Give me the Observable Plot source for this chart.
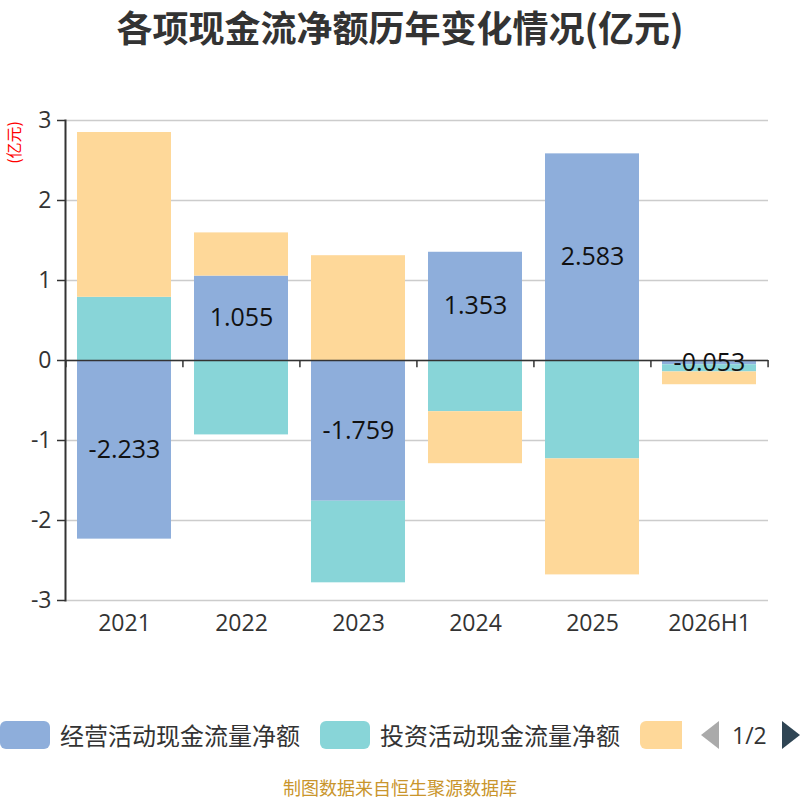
<!DOCTYPE html>
<html>
<head>
<meta charset="utf-8">
<script src="https://cdn.jsdelivr.net/npm/d3@7"></script>
<script src="https://cdn.jsdelivr.net/npm/@observablehq/plot@0.6"></script>
<style>
  body { margin: 0; background: #fff; }
  #wrap { position: relative; width: 800px; height: 800px; overflow: hidden; font-family: "Open Sans", "Noto Sans CJK SC", sans-serif; }
  #title { position: absolute; top: 1px; left: 0; width: 800px; text-align: center; font-family: "Noto Sans CJK SC", sans-serif; font-weight: bold; font-size: 36px; color: #333; line-height: 50px; }
  #ylabel { position: absolute; left: 4px; top: 121px; writing-mode: vertical-rl; text-orientation: sideways; transform: rotate(180deg); font-family: "Noto Sans CJK SC", sans-serif; font-size: 16px; color: #f00; line-height: 18px; white-space: nowrap; }
  #chart { position: absolute; top: 60px; left: 0; }
  #legend { position: absolute; top: 718px; left: 0; width: 800px; height: 34px; font-family: "Noto Sans CJK SC", sans-serif; font-size: 24px; color: #333; }
  .sw { position: absolute; top: 3px; width: 50px; height: 28px; border-radius: 6px; }
  .lt { position: absolute; top: 0; line-height: 34px; white-space: nowrap; }
  #caption { position: absolute; top: 777px; left: 0; width: 800px; text-align: center; font-family: "Noto Sans CJK SC", sans-serif; font-size: 18px; color: #c9952c; line-height: 20px; }
</style>
</head>
<body>
<div id="wrap">
  <div id="title">各项现金流净额历年变化情况(亿元)</div>
  <div id="ylabel">(亿元)</div>
  <div id="chart"></div>
  <div id="legend"></div>
  <div id="caption">制图数据来自恒生聚源数据库</div>
</div>
<script>
const years = ["2021", "2022", "2023", "2024", "2025", "2026H1"];
const seriesNames = ["经营活动现金流量净额", "投资活动现金流量净额", "筹资活动现金流量净额"];
const seriesColors = ["#8eaedb", "#88d5d8", "#fed899"];
const operating = [-2.233, 1.055, -1.759, 1.353, 2.583, -0.053];
const investing = [0.79, -0.93, -1.02, -0.64, -1.23, -0.09];
const financing = [2.06, 0.54, 1.31, -0.65, -1.45, -0.16];
const yTicks = [-3, -2, -1, 0, 1, 2, 3];

const seriesValues = [operating, investing, financing];
const data = [];
seriesNames.forEach((s, si) => {
  years.forEach((y, i) => data.push({year: y, series: s, value: seriesValues[si][i]}));
});
const opData = years.map((y, i) => ({year: y, value: operating[i]}));

const W = 800, ML = 65, MR = 32;
const step = (W - ML - MR) / years.length;

const chart = Plot.plot({
  width: W,
  height: 600,
  marginTop: 60,
  marginBottom: 60,
  marginLeft: ML,
  marginRight: MR,
  style: {fontFamily: "'Open Sans', sans-serif", color: "#333", background: "transparent"},
  x: {domain: years, paddingInner: 0.2, paddingOuter: 0.1, label: null},
  y: {domain: [-3, 3], label: null},
  color: {domain: seriesNames, range: seriesColors},
  marks: [
    Plot.gridY(yTicks, {stroke: "#ccc", strokeOpacity: 1, strokeWidth: 1.3}),
    Plot.barY(data, {x: "year", y: "value", fill: "series"}),
    Plot.ruleY([0], {stroke: "#333", strokeWidth: 1.5}),
    Plot.ruleX(years, {x: d => d, y1: 0, y2: -0.09, dx: -step / 2, stroke: "#333", strokeWidth: 1.5}),
    Plot.ruleX(years.slice(-1), {x: d => d, y1: 0, y2: -0.09, dx: step / 2, stroke: "#333", strokeWidth: 1.5}),
    Plot.axisY(yTicks, {tickSize: 8, tickPadding: 6, fontSize: 23, tickFormat: d => String(d).replace("−", "-"), stroke: "#333", strokeWidth: 1.5, fill: "#333"}),
    Plot.frame({anchor: "left", stroke: "#333", strokeWidth: 2}),
    Plot.axisX({tickSize: 0, tickPadding: 14, fontSize: 23, fill: "#333"}),
    Plot.text(opData, {x: "year", y: d => d.value / 2, text: d => d3.format(".3f")(d.value).replace("−", "-"), fontSize: 25, fill: "#111"})
  ]
});
document.getElementById("chart").appendChild(chart);

const legend = document.getElementById("legend");
const items = [
  {x: 0, tx: 60, i: 0},
  {x: 320, tx: 380, i: 1},
  {x: 640, tx: null, i: 2}
];
items.forEach(it => {
  const sw = document.createElement("div");
  sw.className = "sw";
  sw.style.left = it.x + "px";
  sw.style.background = seriesColors[it.i];
  if (it.tx === null) { sw.style.width = "42px"; sw.style.borderRadius = "6px 0 0 6px"; }
  legend.appendChild(sw);
  if (it.tx !== null) {
    const t = document.createElement("div");
    t.className = "lt";
    t.style.left = it.tx + "px";
    t.textContent = seriesNames[it.i];
    legend.appendChild(t);
  }
});
legend.insertAdjacentHTML("beforeend",
  '<svg style="position:absolute;left:700px;top:3px" width="20" height="28"><polygon points="19,0 19,28 1,14" fill="#aaa"/></svg>' +
  '<div class="lt" style="left:732px;font-family:\'Open Sans\',sans-serif;font-size:23px">1/2</div>' +
  '<svg style="position:absolute;left:781px;top:3px" width="20" height="28"><polygon points="1,0 1,28 19,14" fill="#2f4554"/></svg>');
</script>
</body>
</html>
